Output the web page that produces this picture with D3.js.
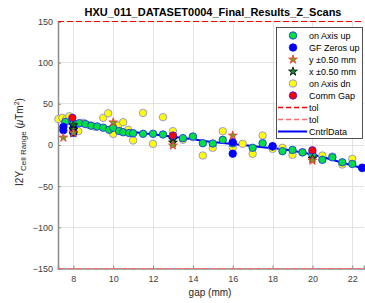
<!DOCTYPE html>
<html>
<head>
<meta charset="utf-8">
<script src="https://cdn.jsdelivr.net/npm/d3@7"></script>
<style>
  body { margin: 0; background: #fff; }
  svg { font-family: "Liberation Sans", Arial, sans-serif; }
</style>
</head>
<body>
<svg id="chart" width="365" height="303"></svg>
<script>
// ---- data ----
const xTicks = [8, 10, 12, 14, 16, 18, 20, 22];
const yTicks = [-150, -100, -50, 0, 50, 100, 150];

const onAxisUpGap = [7.6, 8.0, 8.3, 8.6, 8.9, 9.2, 9.5, 9.8, 10.0, 10.3, 10.5, 10.8, 11.0, 11.5, 12.0, 12.5, 13.0, 13.5, 14.0, 14.5, 15.0, 15.5, 16.0, 17.0, 17.5, 18.0, 18.5, 19.0, 19.5, 20.0, 20.5, 21.0, 21.5, 22.0, 22.5];
const onAxisUpVal = [28, 26, 26.5, 25.5, 23.5, 22.5, 21, 18.5, 21, 17, 15.5, 14.5, 14.3, 13.6, 13.6, 12.8, 9.5, 8.3, 10.3, 2.2, 1.8, 6.3, 2, -3.4, 2.2, -1.8, -7.5, -6, -9, -12, -18, -15, -21, -23, -28];

const gfZerosGap = [7.5, 7.5, 8.0, 8.0, 16.0, 16.0, 18.0, 22.5];
const gfZerosVal = [18, 22, 15, 20, 3.5, -10.5, -1.5, -27.5];

const yOffGap = [7.5, 8.0, 10.0, 13.0, 16.0, 20.0];
const yOffVal = [9, 15, 27.5, -0.5, 11.5, -19];

const xOffGap = [8.0, 8.0, 8.0, 13.0, 13.0, 20.0];
const xOffVal = [24, 19, 14.5, 7, 3, -16.5];

const onAxisDnGap = [7.25, 7.45, 7.65, 7.8, 8.25, 8.5, 8.8, 9.1, 9.5, 9.75, 10.0, 10.25, 10.5, 10.75, 11.0, 11.5, 12.0, 12.5, 13.0, 13.5, 14.0, 14.5, 15.0, 15.5, 16.0, 16.5, 17.0, 17.5, 18.0, 18.5, 19.0, 19.5, 20.0, 20.5, 21.0, 21.5, 22.0];
const onAxisDnVal = [31.5, 33, 31.5, 35, 16.8, 27, 24, 22, 33, 38.5, 13.5, 23.7, 27.7, 18.5, 5.5, 39, 1.4, 33.8, 16.8, 6.3, 9.5, -12.8, -3.4, 16.8, -2.7, 1.4, -10.7, 11.5, -4.7, -3.4, -11.9, -8.7, -9.2, -12.8, -14, -23.7, -16.8];

const commGapGap = [7.95, 13.0, 20.0];
const commGapVal = [33, 11.5, -6.5];

const tolVals = [150, -150];

const cntrlGap = [7.3, 7.5, 8, 8.5, 9, 9.5, 10, 10.5, 11, 11.5, 12, 12.5, 13, 13.5, 14, 14.5, 15, 15.5, 16, 16.5, 17, 17.5, 18, 18.5, 19, 19.5, 20, 20.5, 21, 21.5, 22, 22.5];
const cntrlVal = [31, 30, 27.5, 25.5, 23.5, 21.5, 19.5, 17.5, 15.8, 14.3, 13, 11.5, 10, 8.5, 7, 5.2, 3.5, 2.3, 1.2, 0, -1.3, -2.6, -4, -5, -7, -9, -11.5, -14.5, -18, -21.5, -25, -28];

// ---- layout ----
const svg = d3.select('#chart');
const plotL = 58, plotR = 364, plotT = 21.5, plotB = 268.5;

const x = d3.scaleLinear().domain([7.23, 22.59]).range([plotL, plotR]);
const y = d3.scaleLinear().domain([-150, 150]).range([plotB, plotT]);

// grid
const grid = svg.append('g').attr('class', 'grid');
grid.selectAll('line.vx').data(xTicks).enter().append('line')
    .attr('x1', d => Math.round(x(d)) + 0.5).attr('x2', d => Math.round(x(d)) + 0.5)
    .attr('y1', plotT).attr('y2', plotB)
    .attr('stroke', '#e3e3e3').attr('stroke-width', 1);
grid.selectAll('line.hy').data(yTicks).enter().append('line')
    .attr('x1', plotL).attr('x2', plotR)
    .attr('y1', d => Math.round(y(d) - 0.5) + 0.5).attr('y2', d => Math.round(y(d) - 0.5) + 0.5)
    .attr('stroke', '#e3e3e3').attr('stroke-width', 1);

// axes
const xAxis = svg.append('g')
    .attr('transform', `translate(0,${plotB})`)
    .call(d3.axisBottom(x).tickValues(xTicks).tickSize(-3).tickPadding(7).tickFormat(d3.format('d')));
const yAxis = svg.append('g')
    .attr('transform', `translate(${plotL},0)`)
    .call(d3.axisLeft(y).tickValues(yTicks).tickSize(-3).tickPadding(5).tickFormat(d3.format('d')));
[xAxis, yAxis].forEach(a => {
    a.select('.domain').attr('stroke', '#8c8c8c').attr('stroke-width', 1.5);
    a.selectAll('.tick line').attr('stroke', '#8c8c8c');
    a.selectAll('.tick text').attr('fill', '#404040').attr('font-size', 9)
        .attr('font-family', '"Liberation Sans", Arial, sans-serif');
});

// tolerance lines
const tolColors = ['#ff0000', '#ff6a6a'];
svg.selectAll('line.tol').data(tolVals).enter().append('line')
    .attr('class', 'tol')
    .attr('x1', plotL).attr('x2', plotR)
    .attr('y1', d => y(d)).attr('y2', d => y(d))
    .attr('stroke', (d, i) => tolColors[i])
    .attr('stroke-width', 1.2)
    .attr('stroke-dasharray', '6,3');

// control line
const line = d3.line().x(d => x(d[0])).y(d => y(d[1]));
svg.append('path')
    .datum(cntrlGap.map((g, i) => [g, cntrlVal[i]]))
    .attr('d', line)
    .attr('fill', 'none')
    .attr('stroke', '#0000ff')
    .attr('stroke-width', 2);

// markers
const circle = d3.symbol().type(d3.symbolCircle).size(44);
const star = d3.symbol().type(d3.symbolStar).size(24);

const series = [
    { name: 'on Axis up', gap: onAxisUpGap, val: onAxisUpVal, sym: circle, fill: '#00e040', stroke: '#2020ff' },
    { name: 'GF Zeros up', gap: gfZerosGap, val: gfZerosVal, sym: circle, fill: '#0000ff', stroke: '#0000ff' },
    { name: 'y \u00b10.50 mm', gap: yOffGap, val: yOffVal, sym: star, fill: '#70a020', stroke: '#ff3030' },
    { name: 'x \u00b10.50 mm', gap: xOffGap, val: xOffVal, sym: star, fill: '#109030', stroke: '#000000' },
    { name: 'on Axis dn', gap: onAxisDnGap, val: onAxisDnVal, sym: circle, fill: '#ffff00', stroke: '#8080ff' },
    { name: 'Comm Gap', gap: commGapGap, val: commGapVal, sym: circle, fill: '#ff0000', stroke: '#2020ff' }
];

// draw in the same stacking order as the reference (yellow under green)
const drawOrder = [4, 0, 1, 3, 2, 5];
drawOrder.forEach(k => {
    const s = series[k];
    svg.append('g').selectAll('path')
        .data(s.gap.map((g, i) => [g, s.val[i]]))
        .enter().append('path')
        .attr('d', s.sym)
        .attr('transform', d => `translate(${x(d[0])},${y(d[1])})`)
        .attr('fill', s.fill)
        .attr('stroke', s.stroke)
        .attr('stroke-width', 0.8);
});

// title and labels
svg.append('text')
    .attr('x', 213).attr('y', 16)
    .attr('text-anchor', 'middle')
    .attr('font-size', 11).attr('font-weight', 'bold')
    .attr('fill', '#000')
    .text('HXU_011_DATASET0004_Final_Results_Z_Scans');

svg.append('text')
    .attr('x', 210).attr('y', 296)
    .attr('text-anchor', 'middle')
    .attr('font-size', 10).attr('fill', '#262626')
    .text('gap (mm)');

const yl = svg.append('text')
    .attr('transform', 'translate(23,142) rotate(-90)')
    .attr('text-anchor', 'middle')
    .attr('font-size', 10).attr('fill', '#262626');
yl.append('tspan').text('I2Y');
yl.append('tspan').attr('font-size', 8).attr('dy', 3).text('Cell Range');
yl.append('tspan').attr('dy', -3).text(' (');
yl.append('tspan').attr('font-style', 'italic').text('\u03bc');
yl.append('tspan').text('Tm');
yl.append('tspan').attr('font-size', 7).attr('dy', -4).text('2');
yl.append('tspan').attr('dy', 4).text(')');

// legend
const lg = svg.append('g').attr('class', 'legend');
lg.append('rect')
    .attr('x', 276.5).attr('y', 27.5).attr('width', 86).attr('height', 111)
    .attr('fill', '#fff').attr('stroke', '#262626').attr('stroke-width', 0.8);

const rowY = i => 35.5 + i * 12;
series.forEach((s, i) => {
    lg.append('path')
        .attr('d', s.sym)
        .attr('transform', `translate(293,${rowY(i)})`)
        .attr('fill', s.fill).attr('stroke', s.stroke).attr('stroke-width', 0.8);
    lg.append('text')
        .attr('x', 309).attr('y', rowY(i) + 3.2)
        .attr('font-size', 9).attr('fill', '#000')
        .text(s.name);
});
const lineItems = [
    { name: 'tol', color: tolColors[0], dash: '5 3', w: 1.6 },
    { name: 'tol', color: tolColors[1], dash: '5 3', w: 1.6 },
    { name: 'CntrlData', color: '#0000ff', dash: 'none', w: 2 }
];
lineItems.forEach((it, j) => {
    const ry = rowY(series.length + j);
    lg.append('path')
        .attr('d', `M278,${ry}H307`)
        .attr('fill', 'none')
        .style('stroke', it.color)
        .style('stroke-width', it.w)
        .style('stroke-dasharray', it.dash);
    lg.append('text')
        .attr('x', 309).attr('y', ry + 3.2)
        .attr('font-size', 9).attr('fill', '#000')
        .text(it.name);
});
</script>
</body>
</html>
